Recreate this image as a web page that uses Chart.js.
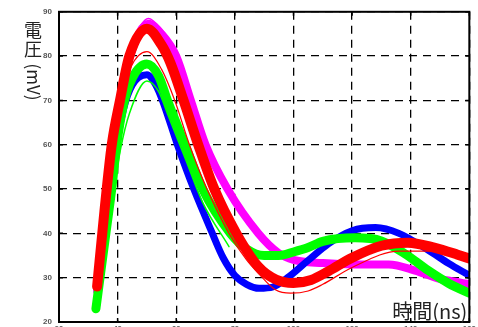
<!DOCTYPE html>
<html>
<head>
<meta charset="utf-8">
<script src="https://cdn.jsdelivr.net/npm/chart.js@4/dist/chart.umd.min.js"></script>
<style>
	html, body { margin: 0; padding: 0; background: #fff; overflow: hidden; }
	canvas { display: block; }
</style>
</head>
<body>
<canvas id="chart" width="478" height="335"></canvas>
<script>
// === Data ===

const xTicks = [20, 40, 60, 80, 100, 120, 140, 160];
const yTicks = [20, 30, 40, 50, 60, 70, 80, 90];

const redX = [33, 35.5, 38, 40.8, 44, 50, 55, 58, 62.5, 67.5, 73, 80.5, 88, 94, 100, 106, 112, 120, 130, 139, 148, 156, 160];
const redY = [28, 45, 60, 70, 80, 86.2, 82.5, 78.5, 70, 60, 50, 40, 32.5, 29.6, 28.8, 29.5, 31.5, 34.5, 37.2, 37.9, 36.8, 35.2, 34.3];

const redLowX = [33, 35.5, 38, 41, 44.5, 50, 55, 59.5, 64.5, 70.5, 78, 84, 88, 94, 99, 105, 110, 120, 136, 150, 160];
const redLowY = [28, 44, 58, 70, 77.5, 81, 77, 70, 60, 50, 40, 34, 31, 27.2, 26.5, 27, 28.5, 32.3, 36, 36, 34];

const magentaX = [33, 35.5, 38, 41, 44.5, 50.5, 55, 60, 65, 70, 77.5, 88, 95, 100, 110, 121, 132.5, 141.5, 149.5, 157, 160];
const magentaY = [27, 44, 59, 70.5, 80.5, 87.3, 85, 80, 70, 60, 50, 40, 35.5, 34, 33.3, 33, 33, 31.6, 29.8, 28.9, 28.5];

const magentaHighX = [33, 35.5, 38, 41, 44.5, 50.5, 55, 60, 65, 70, 78];
const magentaHighY = [27, 45, 60, 71.5, 81.5, 88.5, 86, 81, 71, 61, 50];

const greenX = [32.6, 34, 36, 38, 39.7, 42, 45, 50, 54, 57, 63, 69, 78.5, 84, 90, 95, 100, 105, 110, 121, 130, 138, 146, 153, 160];
const greenY = [23, 30, 40, 50, 60, 69, 75, 78.2, 75.5, 70, 60, 50, 40, 36.5, 35, 35, 35.8, 36.8, 38.2, 39, 38.3, 35.4, 31.6, 28.7, 26.5];

const greenLowX = [33, 35, 37, 39, 41, 44, 50, 54, 57, 63, 69, 78];
const greenLowY = [23, 32, 42, 51, 59, 67, 74.4, 72, 67, 57, 47, 37];

const blueX = [32.8, 34, 36, 38, 39.7, 42, 45, 50, 53, 55.3, 60.4, 66, 72, 76, 80, 84, 88.3, 93, 98, 105, 112, 120, 128, 136, 146, 153, 160];
const blueY = [23.5, 30, 40, 50, 60, 68, 73.5, 75.8, 73.5, 70, 60, 50, 40.5, 34.5, 30.5, 28.5, 27.6, 27.9, 30, 33.9, 37.7, 40.6, 41.3, 40, 36.2, 33.2, 30.5];


// === Helpers ===

function toPoints(xs, ys) {
	return xs.map((x, i) => ({ x: x, y: ys[i] }));
}

function line(xs, ys, color, width, order) {
	return {
		data: toPoints(xs, ys),
		borderColor: color,
		backgroundColor: color,
		borderWidth: width,
		order: order,
		pointRadius: 0,
		cubicInterpolationMode: 'monotone',
		borderCapStyle: 'round',
		borderJoinStyle: 'round'
	};
}

// titles, frame and inward ticks
const decorations = {
	id: 'decorations',
	afterDraw(chart) {
		const ctx = chart.ctx;
		const a = chart.chartArea;
		const xs = chart.scales.x;
		const ys = chart.scales.y;
		ctx.save();

		ctx.strokeStyle = '#000';
		ctx.lineWidth = 2;
		ctx.setLineDash([]);
		ctx.strokeRect(a.left, a.top, a.right - a.left, a.bottom - a.top);

		ctx.lineWidth = 1.5;
		ctx.beginPath();
		yTicks.forEach(v => {
			const y = ys.getPixelForValue(v);
			ctx.moveTo(a.left, y); ctx.lineTo(a.left + 4, y);
			ctx.moveTo(a.right, y); ctx.lineTo(a.right - 4, y);
		});
		xTicks.forEach(v => {
			const x = xs.getPixelForValue(v);
			ctx.moveTo(x, a.bottom); ctx.lineTo(x, a.bottom - 4);
			ctx.moveTo(x, a.top); ctx.lineTo(x, a.top + 4);
		});
		ctx.stroke();

		ctx.fillStyle = '#222';
		ctx.font = '18px "Noto Sans CJK JP"';
		ctx.textAlign = 'center';
		ctx.textBaseline = 'middle';
		ctx.fillText('電', 33, 30);
		ctx.fillText('圧', 33, 49);
		ctx.translate(33, 82);
		ctx.rotate(Math.PI / 2);
		ctx.font = '17px "Noto Sans CJK JP"';
		ctx.fillText('(mV)', 0, 0);
		ctx.setTransform(1, 0, 0, 1, 0, 0);

		ctx.font = '20px "Noto Sans CJK JP"';
		ctx.textAlign = 'right';
		ctx.textBaseline = 'alphabetic';
		ctx.fillText('時間(ns)', a.right - 2, a.bottom - 3);
		ctx.restore();
	}
};


// === Chart ===

const canvas = document.getElementById('chart');

new Chart(canvas, {
	type: 'line',
	data: {
		datasets: [
			line(redX, redY, 'rgb(255, 0, 0)', 10, 1),
			line(redLowX, redLowY, 'rgb(255, 0, 0)', 1.2, 2),
			line(greenX, greenY, 'rgb(0, 255, 0)', 9, 3),
			line(greenLowX, greenLowY, 'rgb(0, 255, 0)', 1.5, 4),
			line(blueX, blueY, 'rgb(0, 0, 255)', 7, 5),
			line(magentaX, magentaY, 'rgb(255, 0, 255)', 8, 6),
			line(magentaHighX, magentaHighY, 'rgb(255, 0, 255)', 1.5, 7)
		]
	},
	options: {
		responsive: false,
		animation: false,
		devicePixelRatio: 1,
		layout: { padding: { top: 9, right: 7, left: 0, bottom: 0 } },
		plugins: {
			legend: { display: false },
			tooltip: { enabled: false }
		},
		scales: {
			x: {
				type: 'linear',
				min: 20,
				max: 160,
				afterBuildTicks: s => { s.ticks = xTicks.map(v => ({ value: v })); },
				afterFit: s => { s.height = 13; },
				ticks: {
					color: '#555',
					padding: 2,
					maxRotation: 0,
					font: { family: 'Arial, "Liberation Sans"', size: 8, weight: 'bold' }
				},
				grid: { color: '#000', lineWidth: 1.3, drawTicks: false },
				border: { display: false, dash: [8, 6] }
			},
			y: {
				min: 20,
				max: 90,
				afterBuildTicks: s => { s.ticks = yTicks.map(v => ({ value: v })); },
				afterFit: s => { s.width = 59; },
				ticks: {
					color: '#555',
					padding: 7,
					font: { family: 'Arial, "Liberation Sans"', size: 8, weight: 'bold' }
				},
				grid: { color: '#000', lineWidth: 1.3, drawTicks: false },
				border: { display: false, dash: [8, 6] }
			}
		}
	},
	plugins: [decorations]
});
</script>
</body>
</html>
